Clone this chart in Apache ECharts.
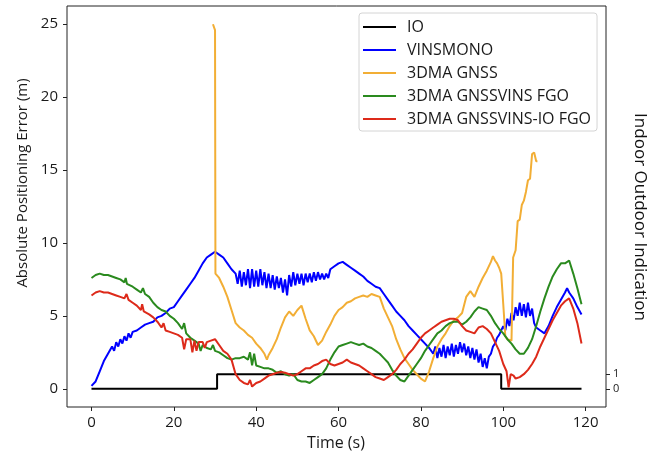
<!DOCTYPE html>
<html>
<head>
<meta charset="utf-8">
<script src="https://cdn.jsdelivr.net/npm/echarts@6/dist/echarts.min.js"></script>
<style>html,body{margin:0;padding:0;background:#fff;}#c{width:662px;height:460px;}</style>
</head>
<body>
<div id="c"></div>
<script>
const xTicks = [0, 20, 40, 60, 80, 100, 120];
const yTicks = [0, 5, 10, 15, 20, 25];
const ioTicks = [0, 1];
const seriesNames = ['IO', 'VINSMONO', '3DMA GNSS', '3DMA GNSSVINS FGO', '3DMA GNSSVINS-IO FGO'];
const xTitle = 'Time (s)';
const yTitle = 'Absolute Positioning Error (m)';
const y2Title = 'Indoor Outdoor Indication';

const ioData = [[0,0],[30.5,0],[30.5,1],[99.5,1],[99.5,0],[119,0]];

const vinsData = [[0,0.2],[1,0.5],[2,1.2],[3,1.9],[4,2.4],[5,2.9],[5.5,2.6],[6,3.2],[6.5,2.9],[7,3.4],[7.5,3.1],[8,3.6],[8.5,3.3],[9,3.8],[9.5,3.5],[10,3.9],[11,4.0],[12,4.2],[13,4.4],[14,4.5],[15,4.6],[16,4.9],[17,5.0],[18,5.2],[19,5.5],[20,5.6],[21,6.0],[22,6.4],[23,6.8],[24,7.2],[25,7.6],[26,8.1],[27,8.6],[28,9.0],[29,9.2],[30,9.4],[31,9.2],[32,9.0],[33,8.6],[34,8.2],[35,7.9],
[35.5,7.2],[36,8.1],[36.5,7.0],[37,8.0],[37.5,7.1],[38,8.2],[38.5,6.9],[39,8.2],[39.5,7.0],[40,8.1],[40.5,7.0],[41,8.2],[41.5,7.1],[42,8.0],[42.5,6.9],[43,7.9],[43.5,6.9],[44,7.8],[44.5,6.8],[45,7.7],[45.5,6.9],[46,7.6],[46.5,6.6],[47,7.5],[47.5,6.4],[48,7.8],[48.5,7.0],[49,8.0],[49.5,7.1],[50,7.9],[50.5,7.2],[51,7.9],[51.5,7.1],[52,7.9],[52.5,7.3],[53,7.9],[53.5,7.3],[54,8.0],[54.5,7.4],[55,8.0],[55.5,7.5],[56,7.9],[56.5,7.5],[57,7.9],[57.5,7.6],[58,8.2],[59,8.4],[60,8.6],[61,8.7],[62,8.5],[63,8.3],[64,8.1],[65,7.9],[66,7.7],[67,7.4],[68,7.2],[69,7.0],[70,6.9],[71,6.5],[72,6.1],[73,5.7],[74,5.3],[75,5.0],[76,4.7],[77,4.3],[78,4.0],[79,3.7],[80,3.4],[81,3.1],[82,2.8],[83,2.4],[83.5,2.9],[84,2.1],[84.5,2.8],[85,2.2],[85.5,3.0],[86,2.1],[86.5,2.9],[87,2.3],[87.5,3.1],[88,2.2],[88.5,3.0],[89,2.4],[89.5,3.2],[90,2.5],[90.5,3.1],[91,2.3],[91.5,2.9],[92,2.1],[92.5,2.8],[93,2.0],[93.5,2.7],[94,1.8],[94.5,2.4],[95,1.5],[95.5,2.1],[96,1.4],[96.5,2.2],[97,2.4],[97.5,2.9],[98,3.1],[98.5,3.5],[99,3.7],[99.5,4.0],[100,4.3],[100.5,4.0],[101,4.8],[101.5,4.3],[102,5.2],[102.5,4.7],[103,5.6],[103.5,5.0],[104,5.9],[104.5,5.0],[105,5.8],[105.5,4.9],[106,5.9],[106.5,5.0],[107,5.5],[107.5,4.5],[108,4.2],[109,4.0],[110,3.8],[111,4.3],[112,5.0],[113,5.6],[114,6.1],[115,6.6],[115.5,6.9],[116,6.6],[117,6.2],[118,5.6],[119,5.1]];

const gnssData = [[29.5,25.0],[29.8,24.9],[30.0,24.6],[30.1,7.9],[31,7.6],[32,7.0],[33,6.3],[34,5.4],[35,4.5],[36,4.2],[37,4.0],[38,3.7],[39,3.5],[40,3.1],[41,2.8],[42,2.4],[42.6,2.0],[43,2.3],[44,2.8],[45,3.4],[46,4.2],[47,4.9],[48,5.3],[49,5.0],[50,5.4],[51,5.7],[52,4.8],[53,4.0],[54,3.6],[55,3.0],[56,3.3],[57,3.9],[58,4.4],[59,5.0],[60,5.4],[61,5.6],[62,5.9],[63,6.0],[64,6.2],[65,6.3],[66,6.4],[67,6.3],[68,6.5],[69,6.4],[70,6.3],[71,5.5],[72,4.9],[73,4.3],[74,3.4],[75,2.7],[76,2.1],[77,1.7],[78,1.3],[79,1.0],[80,0.7],[81,0.5],[82,1.2],[83,2.1],[84,2.9],[85,3.4],[86,3.8],[87,4.3],[88,4.7],[89,4.9],[90,5.2],[91,6.3],[92,6.7],[93,6.3],[94,7.0],[95,7.6],[96,8.1],[97,8.7],[97.5,9.1],[98,8.8],[98.5,8.6],[99,8.3],[99.5,7.9],[100,5.8],[100.5,3.6],[101,3.4],[102,3.3],[102.4,9.0],[103,9.5],[103.5,11.5],[104,11.6],[104.5,12.6],[105,12.9],[105.5,13.5],[106,14.3],[106.5,14.4],[107,16.1],[107.5,16.2],[108,15.6],[108.3,15.6]];

const fgoData = [[0,7.6],[1,7.8],[2,7.9],[3,7.8],[4,7.8],[5,7.7],[6,7.6],[7,7.5],[8,7.3],[8.3,7.6],[8.6,7.2],[9,7.2],[10,7.0],[11,6.8],[12,6.6],[12.5,6.9],[13,6.5],[14,6.3],[15,5.9],[16,5.6],[17,5.4],[18,5.3],[19,5.0],[20,4.8],[21,4.5],[22,4.1],[22.5,4.5],[23,3.8],[24,3.5],[25,3.3],[26,3.1],[26.5,2.6],[27,3.0],[28,2.8],[29,2.7],[29.5,3.0],[30,2.6],[31,2.5],[32,2.3],[33,2.1],[34,2.0],[35,2.1],[36,2.1],[37,2.2],[38,2.0],[38.5,2.5],[39,1.6],[39.5,2.4],[40,1.6],[41,1.5],[42,1.4],[43,1.4],[44,1.3],[45,1.1],[46,1.2],[47,1.0],[48,0.9],[49,1.0],[50,0.6],[51,0.5],[52,0.5],[53,0.4],[54,0.6],[55,0.8],[56,1.0],[57,1.4],[58,2.0],[59,2.5],[60,2.9],[61,3.0],[62,3.1],[63,3.2],[64,3.1],[65,3.0],[66,3.1],[67,2.9],[68,2.8],[69,2.6],[70,2.4],[71,2.1],[72,1.8],[73,1.3],[74,0.9],[75,0.6],[76,0.5],[77,0.9],[78,1.3],[79,1.7],[80,2.1],[81,2.6],[82,3.0],[83,3.4],[84,3.8],[85,4.0],[86,4.3],[87,4.5],[88,4.6],[89,4.6],[90,4.4],[91,4.6],[92,4.9],[93,5.3],[94,5.6],[95,5.5],[96,5.4],[97,5.0],[98,4.5],[99,4.1],[100,3.8],[101,3.4],[102,3.1],[103,2.7],[104,2.4],[105,2.4],[106,2.8],[107,3.4],[108,4.3],[109,5.3],[110,6.2],[111,7.0],[112,7.7],[113,8.2],[114,8.6],[115,8.6],[116,8.8],[117,7.9],[118,6.9],[119,5.8]];

const fgoIoData = [[0,6.4],[1,6.6],[2,6.7],[3,6.6],[4,6.6],[5,6.5],[6,6.4],[7,6.3],[8,6.2],[8.5,6.5],[9,6.1],[10,5.9],[11,5.7],[12,5.4],[12.3,5.8],[12.7,5.3],[13,5.4],[14,5.1],[15,4.9],[16,4.6],[17,4.2],[17.5,4.5],[18,4.0],[19,3.9],[20,3.8],[21,3.7],[22,3.5],[22.5,2.7],[23,3.4],[24,3.4],[24.5,2.5],[25,3.3],[25.5,2.6],[26,3.2],[27,3.2],[27.5,2.8],[28,3.2],[29,3.3],[30,3.4],[31,3.0],[32,2.6],[33,2.4],[34,2.0],[35,1.0],[36,0.6],[37,0.4],[38,0.3],[38.5,0.6],[39,0.15],[40,0.4],[41,0.5],[42,0.7],[43,0.9],[44,1.0],[45,1.1],[46,1.15],[47,1.1],[48,1.0],[49,0.9],[50,1.0],[51,1.2],[52,1.4],[53,1.4],[54,1.6],[55,1.7],[56,1.9],[57,2.0],[58,1.7],[59,1.6],[60,1.7],[61,1.8],[62,2.0],[63,1.8],[64,1.7],[65,1.6],[66,1.4],[67,1.2],[68,1.0],[69,0.8],[70,0.7],[71,0.6],[72,0.8],[73,1.0],[74,1.3],[75,1.7],[76,2.0],[77,2.4],[78,2.7],[79,3.1],[80,3.5],[81,3.8],[82,4.0],[83,4.2],[84,4.4],[85,4.6],[86,4.7],[87,4.8],[88,4.8],[89,4.7],[90,4.3],[91,4.0],[92,3.9],[93,3.8],[94,4.2],[95,4.3],[96,4.1],[97,3.8],[98,3.2],[99,2.6],[100,1.7],[100.8,1.2],[101.3,0.1],[101.8,1.0],[102.5,0.9],[103,0.7],[104,0.8],[105,1.0],[106,1.3],[107,1.7],[108,2.2],[109,2.9],[110,3.5],[111,4.1],[112,4.7],[113,5.2],[114,5.7],[115,6.0],[116,6.2],[117,5.5],[118,4.5],[119,3.1]];

const colors = ['#000000', '#0000ff', '#f2ae35', '#2a8a1e', '#dd2a1a'];
const dataSets = [ioData, vinsData, gnssData, fgoData, fgoIoData];

const FONT = '"Open Sans", "Noto Sans", sans-serif';
const TXT = '#1a1a1a';
const chart = echarts.init(document.getElementById('c'), null, {renderer: 'canvas'});

const option = {
  animation: false,
  backgroundColor: '#ffffff',
  textStyle: {fontFamily: FONT},
  grid: {left: 67, right: 56, top: 6, bottom: 53, show: true, borderColor: '#222', borderWidth: 1, backgroundColor: 'transparent'},
  legend: {
    orient: 'vertical', left: 359, top: 13,
    padding: [6, 6, 4, 4],
    itemWidth: 33, itemHeight: 2, itemGap: 7, icon: 'rect',
    backgroundColor: 'rgba(255,255,255,0.85)', borderColor: '#d4d4d4', borderWidth: 1, borderRadius: 3,
    textStyle: {fontFamily: FONT, fontSize: 16, lineHeight: 16, color: TXT, padding: [0, 0, 0, 6]},
    data: seriesNames
  },
  xAxis: {
    type: 'value', min: -5.95, max: 124.95,
    axisLine: {show: false, onZero: false},
    axisTick: {show: true, inside: false, length: 4, lineStyle: {color: '#222'}, customValues: xTicks},
    axisLabel: {fontFamily: FONT, fontSize: 15, color: TXT, margin: 8, customValues: xTicks},
    splitLine: {show: false}
  },
  yAxis: [{
    type: 'value', min: -1.25, max: 26.25, position: 'left',
    axisLine: {show: false, onZero: false},
    axisTick: {show: true, length: 4, lineStyle: {color: '#222'}, customValues: yTicks},
    axisLabel: {fontFamily: FONT, fontSize: 15, color: TXT, margin: 9, customValues: yTicks},
    splitLine: {show: false}
  }, {
    type: 'value', min: -1.25, max: 26.25, position: 'right',
    axisLine: {show: false, onZero: false},
    axisTick: {show: true, length: 4, lineStyle: {color: '#222'}, customValues: ioTicks},
    axisLabel: {fontFamily: FONT, fontSize: 11, color: TXT, margin: 7, customValues: ioTicks},
    splitLine: {show: false}
  }],
  graphic: [{
    type: 'text', x: 336, y: 443,
    style: {text: xTitle, fontFamily: FONT, fontSize: 16, fill: TXT, align: 'center', verticalAlign: 'middle'}
  }, {
    type: 'text', x: 23, y: 183, rotation: Math.PI / 2,
    style: {text: yTitle, fontFamily: FONT, fontSize: 15, fill: TXT, align: 'center', verticalAlign: 'middle'}
  }, {
    type: 'text', x: 640, y: 217, rotation: -Math.PI / 2,
    style: {text: y2Title, fontFamily: FONT, fontSize: 17, fill: '#111', align: 'center', verticalAlign: 'middle'}
  }],
  series: seriesNames.map((n, i) => ({
    name: n, type: 'line', data: dataSets[i],
    yAxisIndex: i === 0 ? 1 : 0,
    showSymbol: false, symbol: 'none', smooth: false,
    lineStyle: {color: colors[i], width: 2},
    itemStyle: {color: colors[i]},
    z: i === 0 ? 2 : 3 + i
  }))
};
chart.setOption(option);
</script>
</body>
</html>
